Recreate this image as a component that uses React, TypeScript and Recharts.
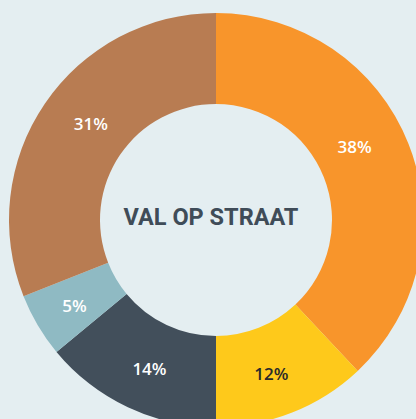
import React from "react";
import { PieChart, Pie, Cell } from "recharts";

const categories = ["A", "B", "C", "D", "E"];
const values = [38, 12, 14, 5, 31];
const colors = ["#F8952B", "#FEC91B", "#424F5B", "#8FBAC3", "#B87C52"];
const labelColors = ["#FFFFFF", "#2A2A2A", "#FFFFFF", "#FFFFFF", "#FFFFFF"];
const title = "VAL OP STRAAT";

const data = categories.map((c, i) => ({ name: c, value: values[i] }));

const RAD = Math.PI / 180;
// small per-label placement tweaks (styling only)
const labelNudge = [
  [-11, -14],
  [-4, 4],
  [2, 3],
  [-3, 4],
  [8, -6],
];

const renderLabel = (props: any) => {
  const { cx, cy, midAngle, index, value } = props;
  const r = 161;
  const x = cx + r * Math.cos(-midAngle * RAD) + labelNudge[index][0];
  const y = cy + r * Math.sin(-midAngle * RAD) + labelNudge[index][1];
  return (
    <text
      x={x}
      y={y}
      fill={labelColors[index]}
      textAnchor="middle"
      dominantBaseline="central"
      fontFamily="'Open Sans', 'Noto Sans', sans-serif"
      fontWeight={600}
      fontSize={17}
    >
      {value}%
    </text>
  );
};

export default function App() {
  return (
    <div
      style={{
        position: "fixed",
        left: 0,
        top: 0,
        width: 416,
        height: 419,
        background: "#E4EEF1",
        overflow: "hidden",
      }}
    >
      <PieChart width={416} height={419} margin={{ top: 0, right: 0, bottom: 0, left: 0 }}>
        <Pie
          data={data}
          dataKey="value"
          cx={216}
          cy={220}
          innerRadius={116}
          outerRadius={207}
          startAngle={90}
          endAngle={-270}
          stroke="none"
          label={renderLabel}
          labelLine={false}
          isAnimationActive={false}
        >
          {data.map((d, i) => (
            <Cell key={d.name} fill={colors[i]} />
          ))}
        </Pie>
        <text
          x={211}
          y={217}
          textAnchor="middle"
          dominantBaseline="central"
          fill="#3F4C58"
          fontFamily="Roboto, 'Noto Sans', sans-serif"
          fontWeight={700}
          fontSize={23.5}
        >
          {title}
        </text>
      </PieChart>
    </div>
  );
}
